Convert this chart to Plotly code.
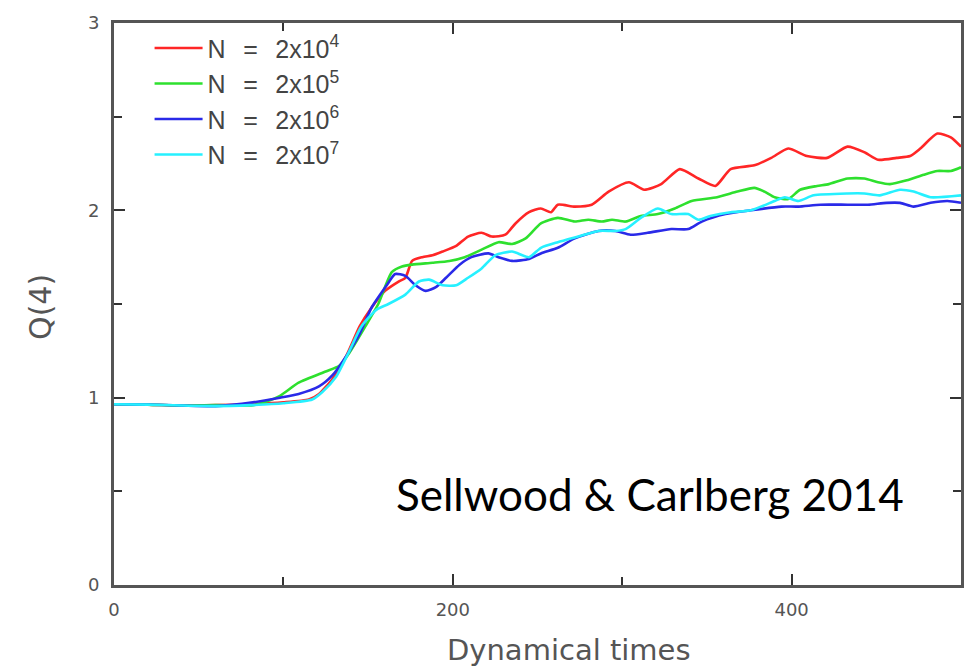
import plotly.graph_objects as go

# ---- data ----
red_x = [0, 20, 40, 60, 80, 100, 115, 121, 129, 137, 145, 152, 160, 168, 172, 176, 182, 188, 194, 202, 209, 217, 223, 231, 237, 245, 252, 258, 262, 272, 282, 292, 304, 313, 323, 334, 345, 355, 364, 378, 388, 398, 409, 421, 433, 443, 451, 462, 470, 476, 486, 494, 500]
red_y = [0.965, 0.963, 0.958, 0.96, 0.965, 0.975, 0.99, 1.02, 1.10, 1.22, 1.38, 1.48, 1.57, 1.62, 1.64, 1.73, 1.75, 1.76, 1.78, 1.81, 1.86, 1.88, 1.86, 1.87, 1.93, 1.99, 2.01, 1.99, 2.03, 2.02, 2.03, 2.10, 2.15, 2.11, 2.14, 2.22, 2.17, 2.13, 2.22, 2.24, 2.28, 2.33, 2.29, 2.28, 2.34, 2.31, 2.27, 2.28, 2.29, 2.33, 2.41, 2.39, 2.34]

green_x = [0, 20, 40, 60, 82, 90, 98, 109, 125, 133, 139, 149, 156, 164, 170, 176, 188, 198, 207, 217, 227, 235, 243, 252, 262, 272, 280, 288, 294, 302, 311, 321, 331, 341, 356, 368, 378, 384, 390, 398, 405, 415, 422, 433, 443, 451, 458, 468, 478, 486, 494, 500]
green_y = [0.965, 0.963, 0.958, 0.96, 0.96, 0.98, 1.01, 1.08, 1.14, 1.17, 1.24, 1.39, 1.50, 1.67, 1.70, 1.71, 1.72, 1.73, 1.75, 1.79, 1.83, 1.82, 1.85, 1.93, 1.96, 1.94, 1.95, 1.94, 1.95, 1.94, 1.97, 1.98, 2.01, 2.05, 2.07, 2.10, 2.12, 2.10, 2.07, 2.06, 2.11, 2.13, 2.14, 2.17, 2.17, 2.15, 2.14, 2.16, 2.19, 2.21, 2.21, 2.23]

blue_x = [0, 20, 40, 60, 82, 98, 109, 121, 129, 137, 145, 152, 161, 166, 172, 178, 184, 190, 196, 204, 211, 221, 227, 235, 245, 252, 262, 272, 286, 296, 305, 315, 329, 339, 347, 361, 376, 394, 404, 417, 433, 445, 456, 464, 472, 482, 492, 500]
blue_y = [0.965, 0.963, 0.958, 0.955, 0.975, 1.00, 1.02, 1.06, 1.12, 1.22, 1.34, 1.48, 1.60, 1.66, 1.65, 1.60, 1.57, 1.59, 1.64, 1.71, 1.75, 1.77, 1.75, 1.73, 1.74, 1.77, 1.80, 1.85, 1.89, 1.89, 1.87, 1.88, 1.90, 1.90, 1.94, 1.98, 2.00, 2.02, 2.02, 2.03, 2.03, 2.03, 2.04, 2.04, 2.02, 2.04, 2.05, 2.04]

cyan_x = [0, 20, 40, 60, 80, 100, 117, 123, 131, 139, 146, 155, 162, 172, 180, 186, 194, 202, 209, 217, 225, 235, 245, 252, 262, 274, 286, 296, 302, 311, 321, 329, 339, 345, 352, 364, 376, 390, 396, 404, 413, 433, 443, 452, 464, 472, 482, 500]
cyan_y = [0.965, 0.963, 0.958, 0.955, 0.96, 0.97, 0.99, 1.03, 1.11, 1.25, 1.38, 1.47, 1.50, 1.55, 1.62, 1.63, 1.60, 1.60, 1.64, 1.69, 1.76, 1.78, 1.75, 1.80, 1.83, 1.86, 1.89, 1.89, 1.90, 1.96, 2.01, 1.98, 1.98, 1.95, 1.97, 1.99, 2.00, 2.05, 2.07, 2.05, 2.08, 2.09, 2.09, 2.08, 2.11, 2.10, 2.07, 2.08]

series_names = ["N\u2002\u2009=\u2002\u20092x10<sup>4</sup>", "N\u2002\u2009=\u2002\u20092x10<sup>5</sup>",
                "N\u2002\u2009=\u2002\u20092x10<sup>6</sup>", "N\u2002\u2009=\u2002\u20092x10<sup>7</sup>"]
series_colors = ["#ff2626", "#2ee02e", "#2a2ae8", "#26f0ff"]

x_ticks = [0, 200, 400]
y_ticks = [0, 1, 2, 3]

fig = go.Figure()
for (xs, ys), name, col in zip([(red_x, red_y), (green_x, green_y), (blue_x, blue_y), (cyan_x, cyan_y)],
                               series_names, series_colors):
    fig.add_trace(go.Scatter(x=xs, y=ys, mode="lines", name=name,
                             line=dict(color=col, width=2.6, shape="spline", smoothing=0.6)))

axis_common = dict(showline=True, linecolor="#555555", linewidth=3, mirror="ticks",
                   ticks="inside", ticklen=11, tickwidth=2, tickcolor="#333333",
                   showgrid=False, zeroline=False,
                   tickfont=dict(family="DejaVu Sans", size=18, color="#555555"))

fig.update_xaxes(range=[0, 500], tickvals=x_ticks, ticktext=[str(v) for v in x_ticks],
                 minor=dict(dtick=100, ticks="inside", ticklen=8, tickwidth=2, tickcolor="#333333"),
                 ticklabelstandoff=6,
                 **axis_common)
fig.update_yaxes(range=[0, 3], tickvals=y_ticks, ticktext=[str(v) for v in y_ticks],
                 minor=dict(dtick=0.5, ticks="inside", ticklen=8, tickwidth=2, tickcolor="#333333"),
                 ticklabelstandoff=8,
                 **axis_common)

# axis titles
fig.add_annotation(text="Dynamical times", xref="paper", yref="paper",
                   x=0.537, y=-0.116, xanchor="center", yanchor="middle", showarrow=False,
                   font=dict(family="DejaVu Sans", size=29, color="#555555"))
fig.add_annotation(text="Q(4)", xref="paper", yref="paper", textangle=-90,
                   x=-0.086, y=0.495, xanchor="center", yanchor="middle", showarrow=False,
                   font=dict(family="DejaVu Sans", size=30, color="#555555"))

fig.add_annotation(text="Sellwood &amp; Carlberg 2014", xref="paper", yref="paper",
                   x=0.935, y=0.162, xanchor="right", yanchor="middle", showarrow=False,
                   font=dict(family="Lato", size=44, color="#000000"))

fig.update_layout(
    width=976, height=667,
    margin=dict(l=114, r=13, t=15, b=82),
    paper_bgcolor="white", plot_bgcolor="white",
    legend=dict(x=0.042, y=0.996, xanchor="left", yanchor="top", bgcolor="rgba(0,0,0,0)",
                font=dict(family="Liberation Sans", size=25, color="#444444"),
                tracegroupgap=0, itemwidth=48),
)

fig.write_html("out.html")
